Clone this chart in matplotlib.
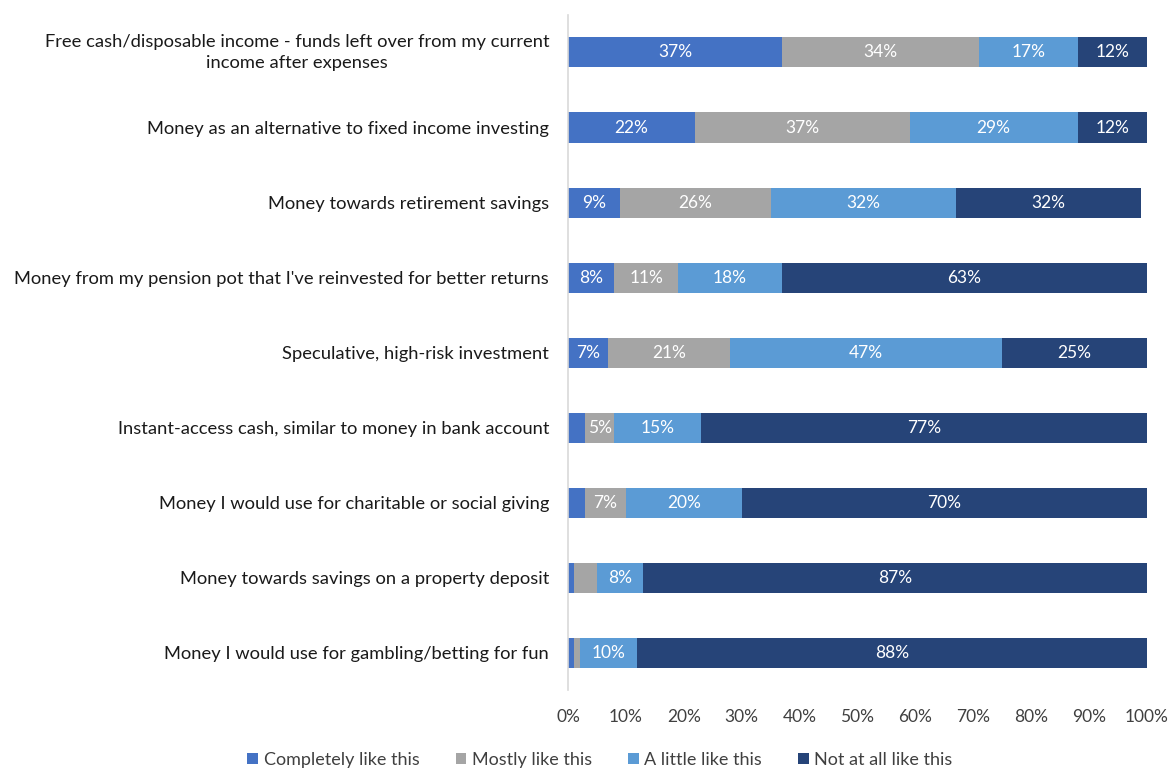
import matplotlib
matplotlib.use('Agg')
import matplotlib.pyplot as plt
import numpy as np
from matplotlib.patches import Patch
from matplotlib.ticker import PercentFormatter

plt.rcParams['font.family'] = ['Lato', 'DejaVu Sans']

categories = [
    'Free cash/disposable income - funds left over from my current\nincome after expenses',
    'Money as an alternative to fixed income investing',
    'Money towards retirement savings',
    "Money from my pension pot that I've reinvested for better returns",
    'Speculative, high-risk investment',
    'Instant-access cash, similar to money in bank account',
    'Money I would use for charitable or social giving',
    'Money towards savings on a property deposit',
    'Money I would use for gambling/betting for fun',
]

series_names = ['Completely like this', 'Mostly like this',
                'A little like this', 'Not at all like this']

completely = [37, 22, 9, 8, 7, 3, 3, 1, 1]
mostly = [34, 37, 26, 11, 21, 5, 7, 4, 1]
a_little = [17, 29, 32, 18, 47, 15, 20, 8, 10]
not_at_all = [12, 12, 32, 63, 25, 77, 70, 87, 88]

colors = ['#4472C4', '#A5A5A5', '#5B9BD5', '#264478']

fig = plt.figure(figsize=(11.72, 7.69), dpi=100)
ax = fig.add_axes([0.4846, 0.1027, 0.4941, 0.8778])

y = np.arange(len(categories))
left = np.zeros(len(categories))
for vals, name, col in zip([completely, mostly, a_little, not_at_all],
                           series_names, colors):
    vals = np.array(vals, dtype=float)
    ax.barh(y, vals, left=left, height=0.4, color=col, label=name,
            edgecolor='none')
    # подписи только для сегментов от 5%
    for yi, l, v in zip(y, left, vals):
        if v >= 5:
            ax.text(l + v / 2, yi, f'{int(v)}%', ha='center', va='center',
                    color='white', fontsize=12.5)
    left += vals

ax.set_ylim(8.5, -0.5)
ax.set_xlim(0, 100)
ax.set_yticks(y)
ax.set_yticklabels(categories, fontsize=13.2, color='#1a1a1a',
                   linespacing=1.45)
for lbl in ax.get_yticklabels():
    lbl.set_multialignment('center')
    if '\n' in lbl.get_text():
        lbl.set_verticalalignment('center')
ax.set_xticks(np.arange(0, 101, 10))
ax.xaxis.set_major_formatter(PercentFormatter(decimals=0))
ax.tick_params(axis='x', length=0, labelsize=12.5, colors='#404040', pad=14)
ax.tick_params(axis='y', length=0, pad=13.5)

for s in ['top', 'right', 'bottom']:
    ax.spines[s].set_visible(False)
ax.spines['left'].set_color('#D9D9D9')
ax.spines['left'].set_linewidth(1.2)

handles = [Patch(facecolor=c, edgecolor='none') for c in colors]
fig.legend(handles, series_names, loc='center', bbox_to_anchor=(0.512, 0.012),
           ncol=4, frameon=False, fontsize=13, handlelength=0.6,
           handleheight=0.6, handletextpad=0.3, columnspacing=2.0,
           labelcolor='#404040')

fig.savefig('out.png', dpi=100, facecolor='white')
